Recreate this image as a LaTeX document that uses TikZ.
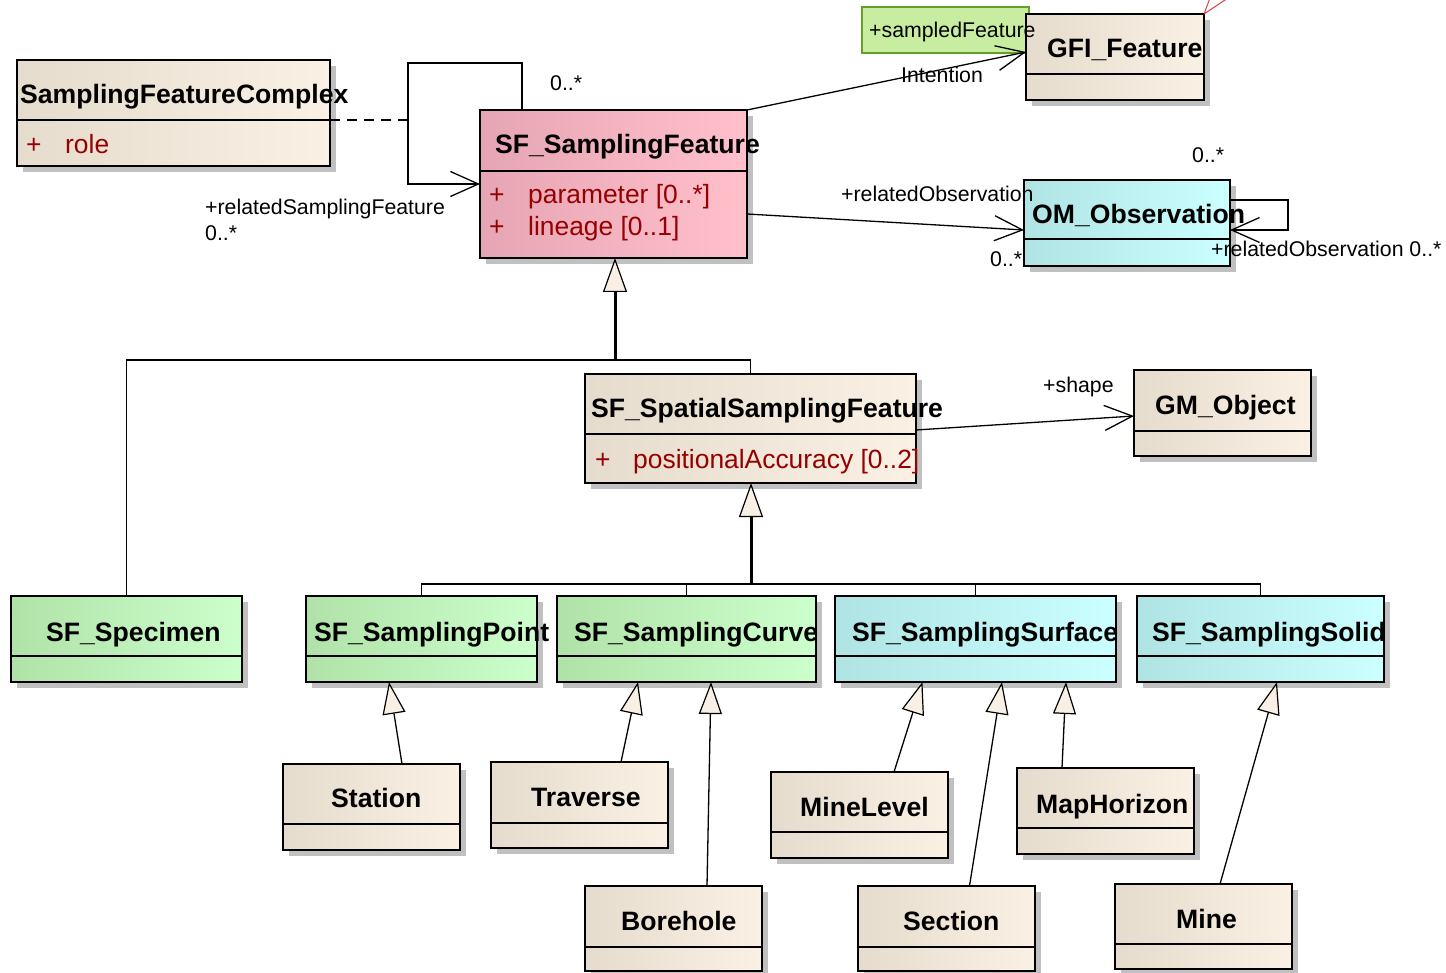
\documentclass[tikz,border=0pt]{standalone}
\usepackage{fontspec}
\setmainfont{Liberation Sans}
\usetikzlibrary{arrows.meta,calc}

\definecolor{beigeL}{RGB}{230,220,205}
\definecolor{beigeR}{RGB}{250,240,228}
\definecolor{pinkL}{RGB}{230,165,180}
\definecolor{pinkR}{RGB}{255,192,203}
\definecolor{greenL}{RGB}{176,226,168}
\definecolor{greenR}{RGB}{204,255,204}
\definecolor{cyanL}{RGB}{176,228,228}
\definecolor{cyanR}{RGB}{204,255,255}
\definecolor{attrred}{RGB}{150,0,0}
\definecolor{shadowc}{RGB}{192,192,192}
\definecolor{notefill}{RGB}{200,236,160}
\definecolor{notedraw}{RGB}{100,160,40}
\definecolor{redline}{RGB}{210,70,80}
\definecolor{genfill}{RGB}{248,240,228}

% name x1 y1 x2 y2 ydivider style
\newcommand\UClass[7]{%
  \fill[shadowc] ({#2+6},{#3+6}) rectangle ({#4+6},{#5+6});%
  \pgfmathsetmacro\ucw{#4-#2}\pgfmathsetmacro\uch{#5-#3}%
  \pgfmathsetmacro\ucx{(#2+#4)/2}\pgfmathsetmacro\ucy{(#3+#5)/2}%
  \node[umlbox,#7,minimum width=\ucw pt,minimum height=\uch pt] (#1) at (\ucx,\ucy) {};%
  \draw[divline] (#2,#6) -- (#4,#6);%
}

\begin{document}
\begin{tikzpicture}[x=1pt,y=-1pt,
  umlbox/.style={draw=black,line width=1.8pt,inner sep=0pt,outer sep=0pt,rectangle},
  beigebox/.style={left color=beigeL,right color=beigeR},
  pinkbox/.style={left color=pinkL,right color=pinkR},
  greenbox/.style={left color=greenL,right color=greenR},
  cyanbox/.style={left color=cyanL,right color=cyanR},
  divline/.style={line width=2.4pt},
  ttl/.style={font=\fontsize{26.6}{30}\selectfont\bfseries,inner sep=0pt,anchor=base west},
  attr/.style={font=\fontsize{26.4}{30}\selectfont,text=attrred,inner sep=0pt,anchor=base west},
  lab/.style={font=\fontsize{21.3}{24}\selectfont,inner sep=0pt,anchor=base west},
  thinl/.style={line width=1.3pt},
  gen/.style={line width=1.3pt,-{Triangle[length=32pt,width=23pt,fill=genfill,line width=1.2pt]}},
  genthick/.style={line width=3pt,-{Triangle[length=34pt,width=24pt,fill=genfill,line width=1.2pt]}},
  assoc/.style={line width=1.3pt,-{Straight Barb[length=28pt,width=25pt,line width=1.3pt]}}
]
\fill[white] (0,0) rectangle (1446,973);
\useasboundingbox (0,0) rectangle (1446,973);

% note box behind GFI_Feature
\node[draw=notedraw,fill=notefill,line width=1.3pt,inner sep=0pt,minimum width=167pt,minimum height=46pt] (sfnote) at (945.5,30) {};

% classes
\UClass{sfc}{17}{60}{330}{166}{120}{beigebox}
\UClass{sf}{480}{110}{747}{258}{171}{pinkbox}
\UClass{gfi}{1026}{14}{1204}{100}{74}{beigebox}
\UClass{om}{1024}{180}{1230}{266}{239}{cyanbox}
\UClass{spatial}{585}{374}{916}{483}{434}{beigebox}
\UClass{gm}{1134}{370}{1311}{456}{431}{beigebox}
\UClass{specimen}{11}{596}{242}{682}{656}{greenbox}
\UClass{point}{306}{596}{537}{682}{656}{greenbox}
\UClass{curve}{557}{596}{816}{682}{656}{greenbox}
\UClass{surface}{835}{596}{1116}{682}{656}{cyanbox}
\UClass{solid}{1137}{596}{1384}{682}{656}{cyanbox}
\UClass{station}{283}{764}{460}{850}{824}{beigebox}
\UClass{traverse}{491}{762}{668}{848}{823}{beigebox}
\UClass{minelevel}{771}{772}{948}{858}{832}{beigebox}
\UClass{maphorizon}{1017}{768}{1194}{854}{828}{beigebox}
\UClass{borehole}{585}{886}{762}{971}{947}{beigebox}
\UClass{section}{858}{886}{1035}{971}{947}{beigebox}
\UClass{mine}{1115}{884}{1292}{969}{944}{beigebox}

% generalizations
\coordinate (bus1) at (615,360);
\draw[thinl] (specimen.north) |- (bus1) -| (spatial.north);
\draw[genthick] (bus1) -- (sf.south -| bus1);
\coordinate (bus2) at (751,584);
\draw[thinl] (point.north) |- (solid.north |- bus2) -- (solid.north);
\draw[thinl] (curve.north) -- (curve.north |- bus2);
\draw[thinl] (surface.north) -- (surface.north |- bus2);
\draw[genthick] (bus2) -- (spatial.south -| bus2);

\draw[gen] ([xshift=30.5pt]station.north) -- ([xshift=-32.5pt]point.south);
\draw[gen] ([xshift=41.5pt]traverse.north) -- ([xshift=-48.5pt]curve.south);
\draw[gen] ([xshift=33.5pt]borehole.north) -- ([xshift=24.5pt]curve.south);
\draw[gen] ([xshift=34.5pt]minelevel.north) -- ([xshift=-53pt]surface.south);
\draw[gen] ([xshift=23pt]section.north) -- ([xshift=26.5pt]surface.south);
\draw[gen] ([xshift=-43.5pt]maphorizon.north) -- ([xshift=90.5pt]surface.south);
\draw[gen] ([xshift=16.5pt]mine.north) -- ([xshift=16.5pt]solid.south);

% associations
\draw[assoc] (sf.north east) -- ([yshift=5pt]gfi.west);
\draw[assoc] ([yshift=-30pt]sf.east) -- ([yshift=-7pt]om.west);
\draw[assoc] ([yshift=23pt]om.east) -- ++(58,0) |- ([yshift=-7pt]om.east);
\coordinate (loopc) at (408,63);
\draw[assoc] ([xshift=-91.5pt]sf.north) |- (loopc) |- (sf.west);
\coordinate (dashend) at (408,120);
\draw[thinl,dash pattern=on 10pt off 7pt] ([yshift=-7pt]sfc.east) -- (dashend);
\draw[assoc] ([yshift=-1.5pt]spatial.east) -- ([yshift=-3pt]gm.west);
\draw[redline,line width=1pt] (gfi.north east) -- ++(6,-16) (gfi.north east) -- ++(24,-16);

% titles
\node[ttl] (t-sfc) at (20,104) {SamplingFeatureComplex};
\node[ttl] (t-sf) at (495,154) {SF\_SamplingFeature};
\node[ttl] (t-gfi) at (1047,58) {GFI\_Feature};
\node[ttl] (t-om) at (1032,224) {OM\_Observation};
\node[ttl] (t-spatial) at (591,418) {SF\_SpatialSamplingFeature};
\node[ttl] (t-gm) at (1155,414) {GM\_Object};
\node[ttl] (t-specimen) at (46,641) {SF\_Specimen};
\node[ttl] (t-point) at (314,641) {SF\_SamplingPoint};
\node[ttl] (t-curve) at (574,641) {SF\_SamplingCurve};
\node[ttl] (t-surface) at (852,641) {SF\_SamplingSurface};
\node[ttl] (t-solid) at (1152,641) {SF\_SamplingSolid};
\node[ttl] (t-station) at (331,807) {Station};
\node[ttl] (t-traverse) at (531,806) {Traverse};
\node[ttl] (t-minelevel) at (800,816) {MineLevel};
\node[ttl] (t-maphorizon) at (1036,813) {MapHorizon};
\node[ttl] (t-borehole) at (621,930) {Borehole};
\node[ttl] (t-section) at (903,930) {Section};
\node[ttl] (t-mine) at (1176,928) {Mine};

% attributes
\node[attr] (a-sfc1) at (26,154) {+};
\node[attr] (a-sfc2) at (65,154) {role};
\node[attr] (a-sf1) at (489,204) {+};
\node[attr] (a-sf2) at (528,204) {parameter [0..*]};
\node[attr] (a-sf3) at (489,236) {+};
\node[attr] (a-sf4) at (528,236) {lineage [0..1]};
\node[attr] (a-sp1) at (595,468) {+};
\node[attr] (a-sp2) at (633,468) {positionalAccuracy [0..2]};

% labels
\node[lab] (l1) at (550,91) {0..*};
\node[lab] (l2) at (205,215) {+relatedSamplingFeature};
\node[lab] (l3) at (205,241) {0..*};
\node[lab] (l4) at (901,83) {Intention};
\node[lab] (l5) at (869,38) {+sampledFeature};
\node[lab] (l6) at (841,202) {+relatedObservation};
\node[lab] (l7) at (990,267) {0..*};
\node[lab] (l8) at (1192,163) {0..*};
\node[lab] (l9) at (1211,257) {+relatedObservation 0..*};
\node[lab] (l10) at (1043,393) {+shape};
\end{tikzpicture}
\end{document}
